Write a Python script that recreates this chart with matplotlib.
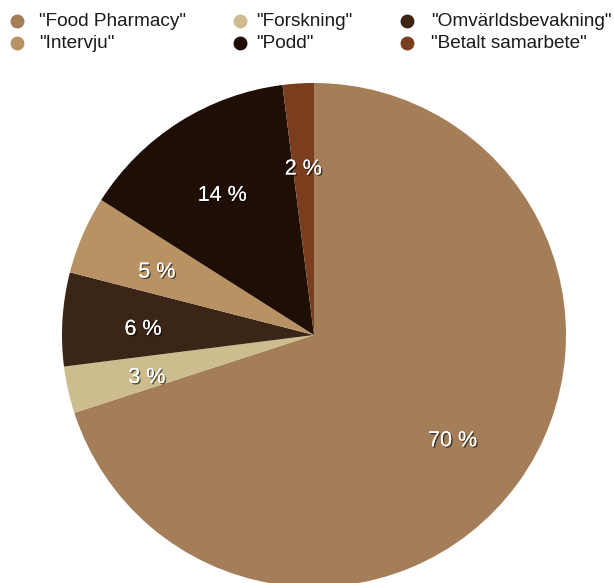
import matplotlib
matplotlib.use("Agg")
import matplotlib.pyplot as plt
import matplotlib.patheffects as pe
import matplotlib.transforms as mtransforms
from matplotlib.lines import Line2D

categories = ['"Food Pharmacy"', '"Forskning"', '"Omvärldsbevakning"',
              '"Intervju"', '"Podd"', '"Betalt samarbete"']
values = [70, 3, 6, 5, 14, 2]
colors = ['#A47D59', '#CDBC8E', '#3B2517', '#B99264', '#1F0E06', '#7A3D1D']

W, H = 614, 583
fig = plt.figure(figsize=(W / 100, H / 100), dpi=100)
cx, cy, r = 314, 335, 252
ax = fig.add_axes([(cx - r) / W, (H - cy - r) / H, 2 * r / W, 2 * r / H])

wedges, texts, autotexts = ax.pie(
    values, colors=colors, startangle=90, counterclock=False,
    autopct=lambda p: f"{p:.0f} %", pctdistance=0.68,
    wedgeprops=dict(linewidth=0), textprops=dict(color='white', fontsize=15.5,
                                                   family='Liberation Sans'))
ax.set_xlim(-1, 1)
ax.set_ylim(-1, 1)
ax.set_aspect('auto')
ax.axis('off')
for t in autotexts:
    t.set_transform(mtransforms.offset_copy(ax.transData, fig=fig, x=0, y=-5, units='dots'))
    t.set_path_effects([pe.withSimplePatchShadow(offset=(1, -1), shadow_rgbFace='black', alpha=0.6),
                        pe.Normal()])

# manual legend, row-major: 3 columns x 2 rows
marker_x = [17, 240, 407]
text_x = [39, 256, 431]
row_y = [21, 43]
for i, (lab, col) in enumerate(zip(categories, colors)):
    row, c = divmod(i, 3)
    y = 1 - row_y[row] / H
    fig.add_artist(Line2D([marker_x[c] / W], [y], marker='o', linestyle='none',
                          markersize=9, markerfacecolor=col, markeredgecolor=col,
                          transform=fig.transFigure))
    fig.text(text_x[c] / W, y, lab, va='center', ha='left', fontsize=13.7,
             family='Liberation Sans', color='#1a1a1a')

fig.savefig("out.png", dpi=100, facecolor='white')
